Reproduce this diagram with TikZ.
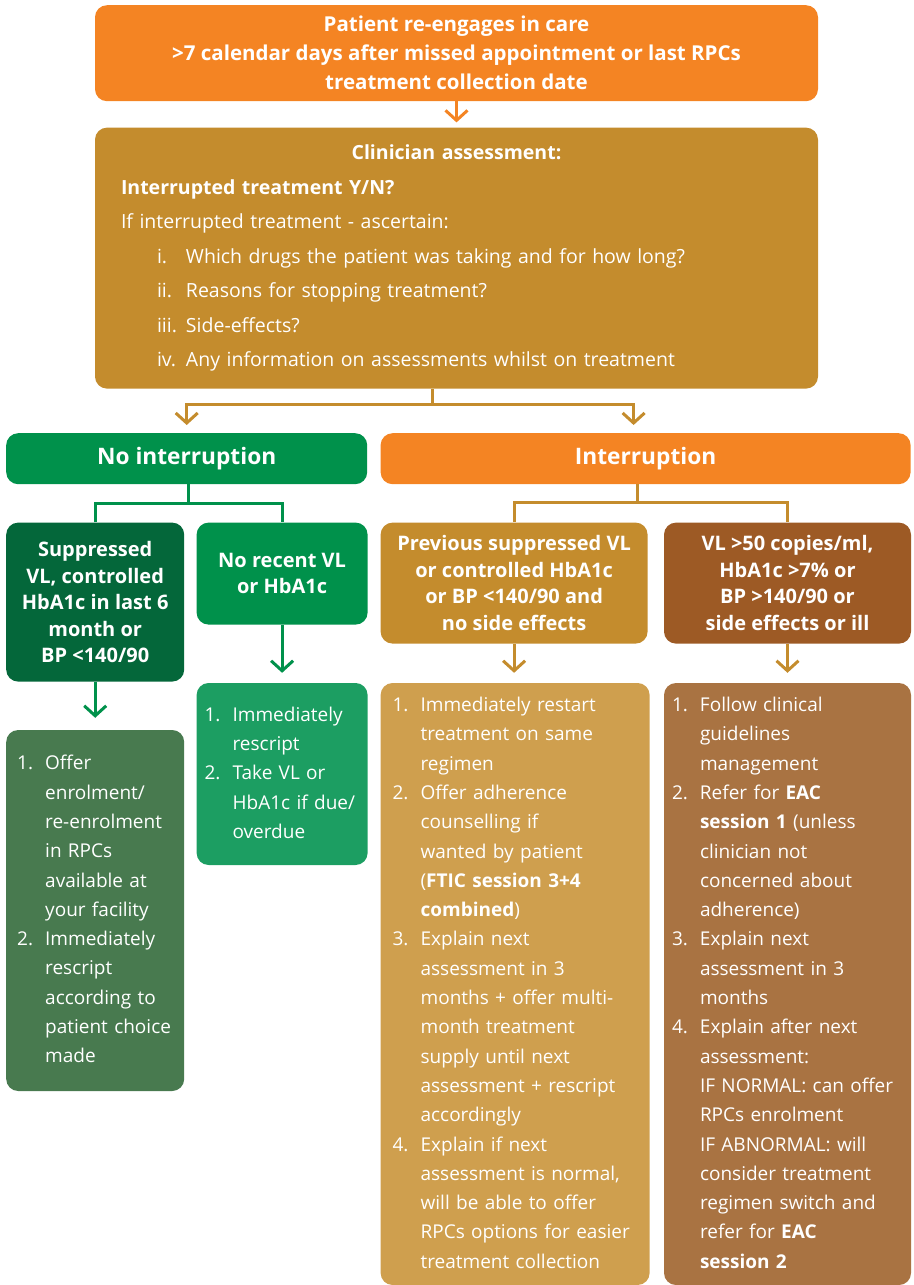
\documentclass[tikz,border=0pt]{standalone}
\usepackage{fontspec}
\setmainfont{Open Sans}
\usepackage{tikz}
\usetikzlibrary{arrows.meta,positioning,calc}
\definecolor{carrot}{HTML}{F48423}
\definecolor{mustard}{HTML}{C48C2D}
\definecolor{leaf}{HTML}{00914B}
\definecolor{forest}{HTML}{04673A}
\definecolor{mint}{HTML}{1C9E62}
\definecolor{olive}{HTML}{487A4F}
\definecolor{sand}{HTML}{CF9F4E}
\definecolor{rust}{HTML}{9D5A25}
\definecolor{clay}{HTML}{A97342}
\tikzset{
  fbox/.style={rounded corners=12pt, text=white, inner sep=0pt, align=center},
  fhead/.style={fbox, font=\bfseries\fontsize{20}{26.5}\selectfont},
  fbig/.style={fbox, font=\bfseries\fontsize{22.7}{26}\selectfont},
  flist/.style={fbox, align=left, font=\fontsize{19}{29.3}\selectfont},
  fline/.style={line width=3pt},
  farrow/.style={fline, -{Straight Barb[length=10pt,width=22pt]}},
}
\newcommand{\steps}[1]{\begin{tabular}{@{}p{28pt}@{}l@{}}#1\end{tabular}}
\newcommand{\rnum}[1]{\hspace*{36pt}\makebox[29pt][l]{#1}}

\begin{document}
\begin{tikzpicture}[x=1pt, y=1pt]
  \useasboundingbox (0,0) rectangle (913,-1285);
  % entry
  \node[fbox, fill=carrot, minimum width=723pt, minimum height=96pt, font=\bfseries\fontsize{20.5}{29}\selectfont, anchor=north] (top) at (456.5,-5) {Patient re-engages in care\\>7 calendar days after missed appointment or last RPCs\\treatment collection date};
  % assessment
  \node[fbox, fill=mustard, minimum width=723pt, minimum height=261pt, text width=671pt, align=left, font=\fontsize{19.5}{34.5}\selectfont, below=26pt of top] (clin) {\makebox[\linewidth]{\bfseries Clinician assessment:}\\
    \textbf{Interrupted treatment Y/N?}\\
    If interrupted treatment - ascertain:\\
    \rnum{i.}Which drugs the patient was taking and for how long?\\
    \rnum{ii.}Reasons for stopping treatment?\\
    \rnum{iii.}Side-effects?\\
    \rnum{iv.}Any information on assessments whilst on treatment};
  % split
  \node[fbig, fill=leaf, minimum width=361pt, minimum height=51pt, anchor=north west] (noint) at (6,-433) {No interruption};
  \node[fbig, fill=carrot, minimum width=530pt, minimum height=51pt, right=13pt of noint] (inter) {Interruption};
  % no interruption branch
  \node[fhead, fill=forest, minimum width=178pt, minimum height=159pt, below=38pt of noint.south west, anchor=north west] (supp) {Suppressed\\VL, controlled\\HbA1c in last 6\\month or\\BP <140/90};
  \node[fhead, fill=leaf, minimum width=171pt, minimum height=102pt, right=12pt of supp.north east, anchor=north west] (norec) {No recent VL\\or HbA1c};
  \node[flist, fill=olive, minimum width=178pt, minimum height=361pt, text width=156pt, below=48pt of supp] (offer) {\steps{1. & Offer\\ & enrolment/\\ & re-enrolment\\ & in RPCs\\ & available at\\ & your facility\\
    2. & Immediately\\ & rescript\\ & according to\\ & patient choice\\ & made}};
  \node[flist, fill=mint, minimum width=171pt, minimum height=182pt, text width=155pt, below=58pt of norec] (resc) {\steps{1. & Immediately\\ & rescript\\
    2. & Take VL or\\ & HbA1c if due/\\ & overdue}};
  % interruption branch
  \node[fhead, fill=mustard, minimum width=267pt, minimum height=121pt, below=38pt of inter.south west, anchor=north west] (prev) {Previous suppressed VL\\or controlled HbA1c\\or BP <140/90 and\\no side effects};
  \node[fhead, fill=rust, minimum width=247pt, minimum height=121pt, right=16pt of prev.north east, anchor=north west] (vlhi) {VL >50 copies/ml,\\HbA1c >7\% or\\BP >140/90 or\\side effects or ill};
  \node[flist, fill=sand, minimum width=269pt, minimum height=602pt, text width=245pt, below=39pt of prev.south west, anchor=north west] (restart) {\steps{1. & Immediately restart\\ & treatment on same\\ & regimen\\
    2. & Offer adherence\\ & counselling if\\ & wanted by patient\\ & (\textbf{FTIC session 3+4}\\ & \textbf{combined})\\
    3. & Explain next\\ & assessment in 3\\ & months + offer multi-\\ & month treatment\\ & supply until next\\ & assessment + rescript\\ & accordingly\\
    4. & Explain if next\\ & assessment is normal,\\ & will be able to offer\\ & RPCs options for easier\\ & treatment collection}};
  \node[flist, fill=clay, minimum width=247pt, minimum height=602pt, text width=231pt, below=39pt of vlhi.south west, anchor=north west] (follow) {\steps{1. & Follow clinical\\ & guidelines\\ & management\\
    2. & Refer for \textbf{EAC}\\ & \textbf{session 1} (unless\\ & clinician not\\ & concerned about\\ & adherence)\\
    3. & Explain next\\ & assessment in 3\\ & months\\
    4. & Explain after next\\ & assessment:\\ & IF NORMAL: can offer\\ & RPCs enrolment\\ & IF ABNORMAL: will\\ & consider treatment\\ & regimen switch and\\ & refer for \textbf{EAC}\\ & \textbf{session 2}}};
  % connectors
  \draw[farrow, carrot, shorten >=5pt] (top) -- (clin);
  \coordinate (cf) at ($(clin.south)+(-24.5,-16)$);
  \draw[fline, mustard] (clin.south -| cf) -- (cf);
  \draw[farrow, mustard, shorten >=8pt] (cf) -| (noint.north);
  \draw[farrow, mustard, shorten >=8pt] (cf) -| ([xshift=-12pt]inter.north);
  \coordinate (gf) at ($(noint.south)+(1.5,-19)$);
  \draw[fline, leaf] (noint.south -| gf) -- (gf);
  \draw[fline, leaf] (supp.north) |- (gf) -| (norec.north);
  \coordinate (if) at ($(inter.south)+(-8,-18)$);
  \draw[fline, mustard] (inter.south -| if) -- (if);
  \draw[fline, mustard] (prev.north) |- (if) -| (vlhi.north);
  \draw[farrow, leaf, shorten >=12pt] (supp) -- (offer);
  \draw[farrow, leaf, shorten >=10pt] (norec) -- (resc);
  \draw[farrow, mustard, shorten >=10pt] (prev.south) -- (prev.south |- restart.north);
  \draw[farrow, mustard, shorten >=10pt] (vlhi.south) -- (vlhi.south |- follow.north);
\end{tikzpicture}
\end{document}
